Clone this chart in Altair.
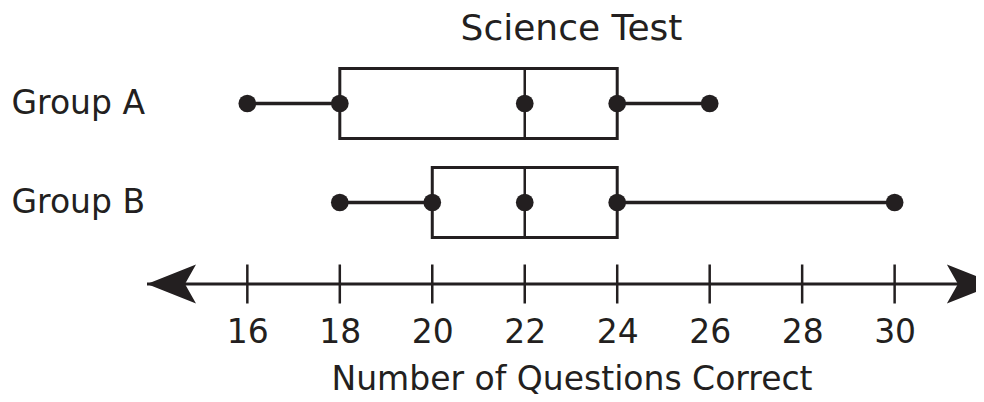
import altair as alt
import pandas as pd

# ---- data ----
groups = ["Group A", "Group B"]
minimums = [16, 18]
lower_quartiles = [18, 20]
medians = [22, 22]
upper_quartiles = [24, 24]
maximums = [26, 30]

tick_values = [16, 18, 20, 22, 24, 26, 28, 30]
line_ends = [13.83, 32.19]          # arrow tips of the number line
x_domain = [13.83, 31.76]

INK = "#231f20"
FONT = "DejaVu Sans"
LEFT_ARROW = "M0,0 L2,-0.8 L1.55,0 L2,0.8 Z"
RIGHT_ARROW = "M0,0 L-2,-0.8 L-1.55,0 L-2,0.8 Z"

box_df = pd.DataFrame({
    "group": groups, "min": minimums, "q1": lower_quartiles,
    "median": medians, "q3": upper_quartiles, "max": maximums,
})
points_df = box_df.melt(id_vars="group", value_vars=["min", "q1", "median", "q3", "max"],
                        var_name="stat", value_name="value")
line_df = pd.DataFrame({"row": ["line"], "start": [line_ends[0]], "end": [line_ends[1]]})
ticks_df = pd.DataFrame({"row": ["line"] * len(tick_values), "value": tick_values})
arrows_df = pd.DataFrame({"row": ["line", "line"], "value": line_ends,
                          "shape": [LEFT_ARROW, RIGHT_ARROW]})

xscale = alt.Scale(domain=x_domain, nice=False, zero=False)
yA = alt.Y("group:N",
           scale=alt.Scale(domain=groups, type="point", padding=0.5),
           axis=alt.Axis(title=None, domain=False, ticks=False, labelAlign="left",
                         labelPadding=136, labelFontSize=33, labelFont=FONT,
                         labelColor=INK, labelBaseline="middle"))

base = alt.Chart(box_df)
whisk = base.mark_rule(color=INK, strokeWidth=3.5).encode(
    x=alt.X("min:Q", scale=xscale, axis=None), x2="max:Q", y=yA)
box = base.mark_bar(fill="white", stroke=INK, strokeWidth=3, size=70).encode(
    x=alt.X("q1:Q", scale=xscale, axis=None), x2="q3:Q", y=yA)
med = base.mark_tick(color=INK, opacity=1, thickness=2.5, size=70).encode(
    x=alt.X("median:Q", scale=xscale, axis=None), y=yA)
dots = alt.Chart(points_df).mark_circle(color=INK, opacity=1, size=314).encode(
    x=alt.X("value:Q", scale=xscale, axis=None), y=yA)

top = alt.layer(whisk, box, med, dots).properties(width=829, height=198)

yL = alt.Y("row:N", scale=alt.Scale(type="point", padding=0.5), axis=None)
xaxis = alt.Axis(values=tick_values, domain=False, ticks=False, grid=False,
                 labelFontSize=33, labelPadding=12, labelFont=FONT, labelColor=INK,
                 labelFlush=False, labelOverlap=False,
                 title="Number of Questions Correct", titleFontSize=33,
                 titleFontWeight="normal", titleFont=FONT, titleColor=INK,
                 titlePadding=14, titleX=424.5)

nline = alt.Chart(line_df).mark_rule(color=INK, strokeWidth=3, clip=True).encode(
    x=alt.X("start:Q", scale=xscale, axis=xaxis), x2="end:Q", y=yL)
nticks = alt.Chart(ticks_df).mark_tick(color=INK, opacity=1, thickness=2.5, size=39).encode(
    x=alt.X("value:Q", scale=xscale), y=yL)
arrows = alt.Chart(arrows_df).mark_point(filled=True, color=INK, opacity=1, size=2401,
                                         strokeWidth=0, clip=True).encode(
    x=alt.X("value:Q", scale=xscale), y=yL, shape=alt.Shape("shape:N", scale=None))

bottom = alt.layer(nline, nticks, arrows).properties(width=829, height=40)

chart = alt.vconcat(top, bottom, spacing=12).properties(
    title=alt.TitleParams("Science Test", fontSize=36, font=FONT, color=INK,
                          fontWeight="normal", anchor="middle", dx=78, offset=6),
    padding={"left": 3, "right": 0, "top": 3, "bottom": 0},
    background="white",
).configure_view(stroke=None)

chart.save("out.html", embed_options={"renderer": "svg", "actions": False})
